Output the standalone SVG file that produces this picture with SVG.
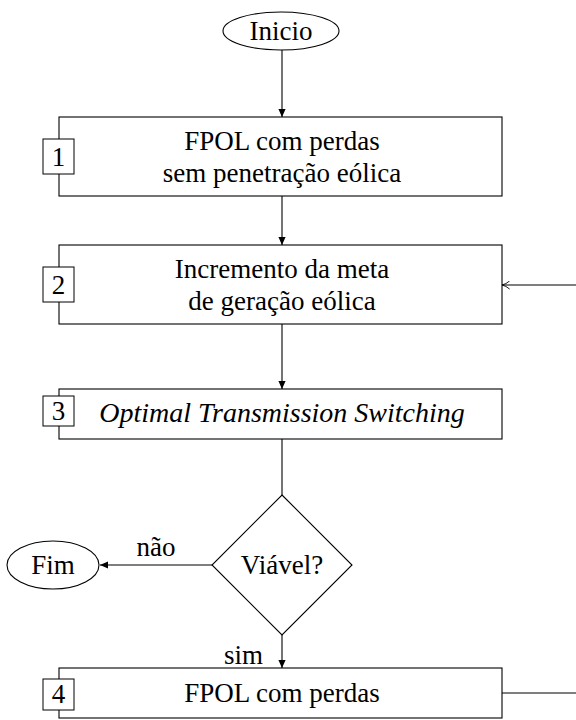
<svg xmlns="http://www.w3.org/2000/svg" width="576" height="720" viewBox="0 0 576 720">
  <style>
    .shape { fill: #ffffff; stroke: #000000; stroke-width: 1.1; }
    .num { fill: #ffffff; stroke: #000000; stroke-width: 1; }
    .txt { font-family: "Liberation Serif", "DejaVu Serif", serif; font-size: 27px; fill: #000000; text-anchor: middle; }
    .it { font-style: italic; font-size: 28px; }
    .edge { fill: none; stroke: #000000; stroke-width: 1.1; }
  </style>
  <defs>
    <marker id="arrowFilled" viewBox="0 0 10 10" refX="10" refY="5" markerWidth="8" markerHeight="8" markerUnits="userSpaceOnUse" orient="auto">
      <path d="M0,0.5 L10,5 L0,9.5 Z" fill="#000000"/>
    </marker>
    <marker id="arrowOpen" viewBox="0 0 10 10" refX="9.5" refY="5" markerWidth="9" markerHeight="9" markerUnits="userSpaceOnUse" orient="auto">
      <path d="M1,0.5 Q5,4 9.5,5 Q5,6 1,9.5" fill="none" stroke="#000000" stroke-width="1"/>
    </marker>
  </defs>

  <rect width="576" height="720" fill="#ffffff"/>

  <!-- connectors -->
  <g id="connectors">
    <line class="edge" x1="282" y1="50" x2="282" y2="117" marker-end="url(#arrowFilled)"/>
    <line class="edge" x1="282" y1="196" x2="282" y2="245" marker-end="url(#arrowFilled)"/>
    <line class="edge" x1="282" y1="324" x2="282" y2="389" marker-end="url(#arrowFilled)"/>
    <line class="edge" x1="282" y1="439" x2="282" y2="495"/>
    <line class="edge" x1="212" y1="565" x2="100" y2="565" marker-end="url(#arrowFilled)"/>
    <text class="txt" x="156" y="556">não</text>
    <line class="edge" x1="282" y1="635" x2="282" y2="668" marker-end="url(#arrowFilled)"/>
    <text class="txt" x="263" y="664" style="text-anchor:end">sim</text>
    <!-- feedback loop from step 4 back to step 2, running outside the right edge -->
    <path class="edge" d="M502,693 H600 V285 H502" marker-end="url(#arrowOpen)"/>
  </g>

  <g id="inicio">
    <ellipse class="shape" cx="281" cy="31" rx="58" ry="19"/>
    <text class="txt" x="281" y="40">Inicio</text>
  </g>

  <g id="step1">
    <rect class="shape" x="59" y="117" width="443" height="79"/>
    <rect class="num" x="43" y="139" width="31" height="35"/>
    <text class="txt" x="58.5" y="166">1</text>
    <text class="txt" x="282" y="150">FPOL com perdas</text>
    <text class="txt" x="282" y="182">sem penetração eólica</text>
  </g>

  <g id="step2">
    <rect class="shape" x="59" y="245" width="443" height="79"/>
    <rect class="num" x="43" y="267" width="31" height="35"/>
    <text class="txt" x="58.5" y="294">2</text>
    <text class="txt" x="282" y="278">Incremento da meta</text>
    <text class="txt" x="282" y="310">de geração eólica</text>
  </g>

  <g id="step3">
    <rect class="shape" x="59" y="389" width="443" height="50"/>
    <rect class="num" x="43" y="396" width="31" height="30"/>
    <text class="txt" x="58.5" y="420">3</text>
    <text class="txt it" x="282" y="422">Optimal Transmission Switching</text>
  </g>

  <g id="decision">
    <polygon class="shape" points="282,495 352,565 282,635 212,565"/>
    <text class="txt" x="282" y="574">Viável?</text>
  </g>

  <g id="fim">
    <ellipse class="shape" cx="53" cy="565" rx="46" ry="24"/>
    <text class="txt" x="53" y="574">Fim</text>
  </g>

  <g id="step4">
    <rect class="shape" x="59" y="668" width="443" height="50"/>
    <rect class="num" x="43" y="679" width="31" height="31"/>
    <text class="txt" x="58.5" y="703">4</text>
    <text class="txt" x="282" y="702">FPOL com perdas</text>
  </g>
</svg>
